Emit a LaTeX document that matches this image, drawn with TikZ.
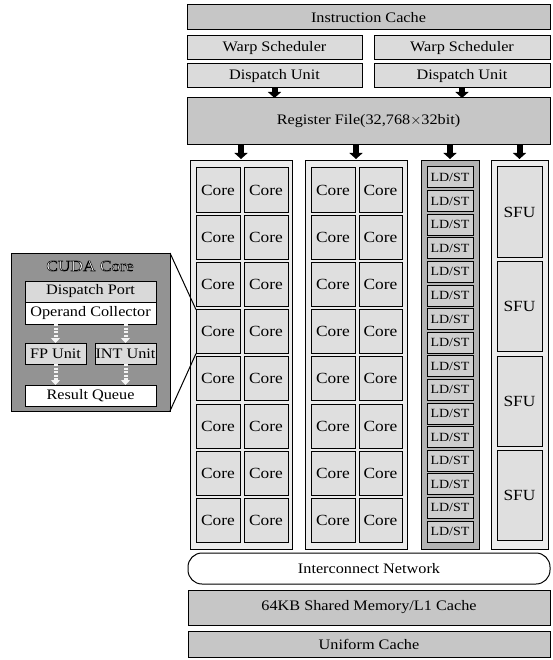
\documentclass[tikz,border=0pt]{standalone}
\usepackage{fontspec}
\setmainfont{Liberation Serif}[FakeStretch=1.12]
\usetikzlibrary{arrows.meta}
\newcommand\boxnode[7]{%
  \node[#1, minimum width={#5pt-#3pt}, minimum height={#6pt-#4pt}] (#2) at ({(#3+#5)/2},{(#4+#6)/2}) {#7};}
\newcommand\outlinedtext[1]{\special{pdf:code 2 Tr 0.5 w 0 G}#1\special{pdf:code 0 Tr}}
\tikzset{
  bx/.style={draw=black, line width=1pt, inner sep=0pt, outer sep=0pt, font=\fontsize{14.5}{16}\selectfont},
  midbox/.style={bx, fill=gray!45},
  lightbox/.style={bx, fill=gray!28},
  colbox/.style={bx, fill=gray!15},
  corebox/.style={bx, fill=gray!25, font=\fontsize{15.5}{17}\selectfont},
  ldcol/.style={bx, fill=gray!60},
  ldbox/.style={bx, fill=gray!38, font=\fontsize{12.5}{13}\selectfont},
  whitebox/.style={bx, fill=white},
  blockarrow/.style={line width=6pt, -{Triangle[width=13pt,length=6pt]}},
  paleflow/.style={draw=gray!8, line width=4pt, dash pattern=on 2pt off 1.5pt, -{Triangle[width=9pt,length=5pt]}},
}
\begin{document}
\begin{tikzpicture}[x=1pt,y=-1pt]
\useasboundingbox (0,0) rectangle (553,660);
% top part
\boxnode{midbox}{icache}{187}{5}{550}{30}{Instruction Cache}
\boxnode{lightbox}{warp1}{187}{36}{362}{60}{Warp Scheduler}
\boxnode{lightbox}{warp2}{374}{36}{550}{60}{Warp Scheduler}
\boxnode{lightbox}{disp1}{187}{64}{362}{88}{Dispatch Unit}
\boxnode{lightbox}{disp2}{374}{64}{550}{88}{Dispatch Unit}
\boxnode{midbox}{reg}{187}{98}{550}{145}{Register File(32,768$\times$32bit)}
\draw[blockarrow] (disp1.south) -- (disp1.south |- reg.north);
\draw[blockarrow] (disp2.south) -- (disp2.south |- reg.north);
% columns
\boxnode{colbox}{col1}{190}{161}{292}{549}{}
\boxnode{colbox}{col2}{305}{161}{407}{549}{}
\boxnode{ldcol}{col3}{421}{161}{479}{549}{}
\boxnode{colbox}{col4}{491}{161}{548}{549}{}
\foreach \c in {col1,col2,col3,col4}{
  \draw[blockarrow, shorten >=2pt] (reg.south -| \c.north) -- (\c.north);
}
\foreach \r in {0,...,7}{
  \pgfmathsetmacro\ya{168+47.2*\r}
  \pgfmathsetmacro\yb{\ya+44}
  \boxnode{corebox}{c1-\r-1}{196}{\ya}{240}{\yb}{Core}
  \boxnode{corebox}{c1-\r-2}{244}{\ya}{288}{\yb}{Core}
  \boxnode{corebox}{c2-\r-1}{311}{\ya}{355}{\yb}{Core}
  \boxnode{corebox}{c2-\r-2}{359}{\ya}{402}{\yb}{Core}
}
\foreach \i in {0,...,15}{
  \pgfmathsetmacro\ya{167+23.6*\i}
  \pgfmathsetmacro\yb{\ya+21}
  \boxnode{ldbox}{ld\i}{427}{\ya}{473}{\yb}{LD/ST}
}
\foreach \i in {0,...,3}{
  \pgfmathsetmacro\ya{167+94.5*\i}
  \pgfmathsetmacro\yb{\ya+90}
  \boxnode{corebox}{sfu\i}{497}{\ya}{542}{\yb}{SFU}
}
% bottom part
\node[bx, fill=white, rounded corners=14pt, minimum width=362pt, minimum height=31pt] (inter) at (369,568.5) {Interconnect Network};
\boxnode{midbox}{shmem}{188}{590}{550}{625}{64KB Shared Memory/L1 Cache}
\boxnode{midbox}{ucache}{188}{631}{550}{657}{Uniform Cache}
% CUDA core detail
\boxnode{bx, fill=gray!85}{cuda}{11}{253}{170}{411}{}
\node[font=\fontsize{15.5}{16}\selectfont, text=gray!10] (cudatitle) at (90,266) {\outlinedtext{CUDA Core}};
\boxnode{bx, fill=gray!30}{dport}{25}{281}{156}{302}{Dispatch Port}
\boxnode{whitebox}{opcol}{25}{302}{156}{324}{Operand Collector}
\boxnode{lightbox}{fpu}{25}{343}{86}{364}{FP Unit}
\boxnode{lightbox}{intu}{95}{343}{156}{364}{INT Unit}
\boxnode{whitebox}{rq}{25}{385}{156}{406}{Result Queue}
\draw[paleflow] (opcol.south -| fpu.north) -- (fpu.north);
\draw[paleflow] (opcol.south -| intu.north) -- (intu.north);
\draw[paleflow] (fpu.south) -- (rq.north -| fpu.south);
\draw[paleflow] (intu.south) -- (rq.north -| intu.south);
\draw[line width=1pt] (cuda.north east) -- (c1-3-1.north west);
\draw[line width=1pt] (cuda.south east) -- (c1-3-1.south west);
\end{tikzpicture}
\end{document}
